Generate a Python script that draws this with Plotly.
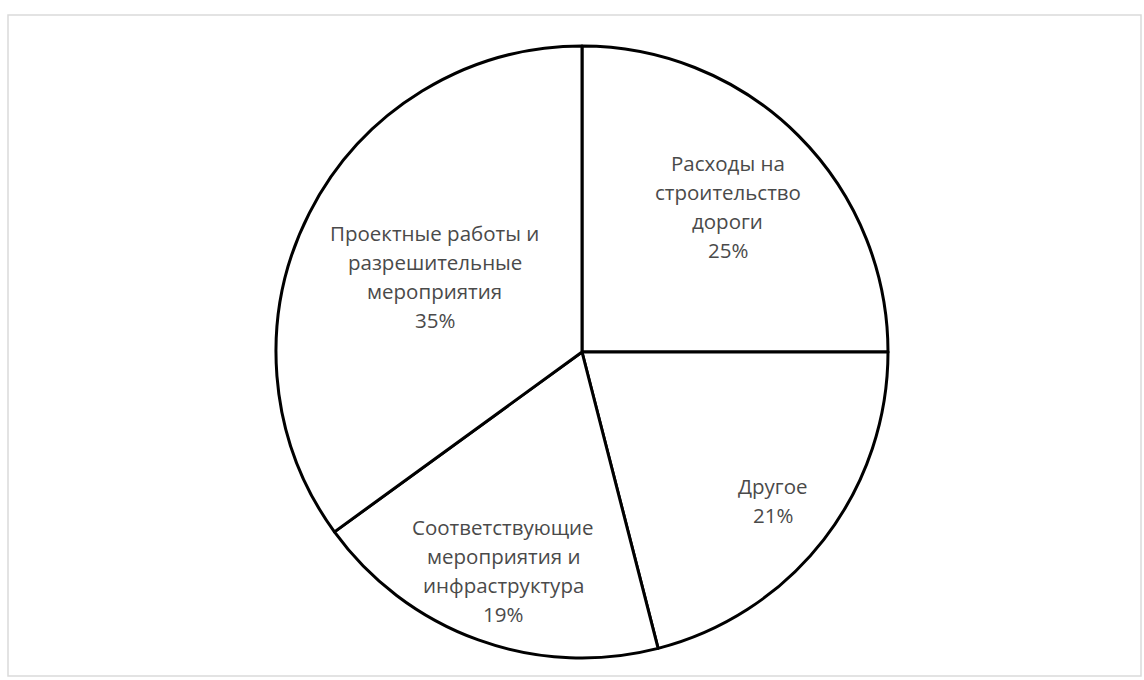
import numpy as np
import plotly.graph_objects as go

labels = ["Расходы на строительство дороги", "Другое",
          "Соответствующие мероприятия и инфраструктура",
          "Проектные работы и разрешительные мероприятия"]
label_lines = [["Расходы на", "строительство", "дороги"],
               ["Другое"],
               ["Соответствующие", "мероприятия и", "инфраструктура"],
               ["Проектные работы и", "разрешительные", "мероприятия"]]
values = [25, 21, 19, 35]

W, H = 1144, 680
ml, mr, mt, mb = 0, 0, 46, 22
cx_px = 582
dom_x0 = (2 * cx_px - W) / W
R = (H - mt - mb) / 2  # pie radius in px
ph = H - mt - mb
pw = W - ml - mr

fig = go.Figure(go.Pie(
    labels=labels, values=values, sort=False, direction="clockwise", rotation=0,
    textinfo="none", hoverinfo="label+percent",
    marker=dict(colors=["#ffffff"] * len(values), line=dict(color="#000000", width=3)),
    domain=dict(x=[dom_x0, 1], y=[0, 1]), showlegend=False,
))

# label placement from slice mid-angles
label_r = [0.673, 0.79, 0.758, 0.54]
vals = np.array(values, dtype=float)
cum = np.cumsum(vals) / vals.sum()
mids = (cum - vals / vals.sum() / 2) * 2 * np.pi
cy_px = mt + ph / 2
line_gap = 29
annotations = []
for i, (lines, v) in enumerate(zip(label_lines, values)):
    pct = round(v / vals.sum() * 100)
    all_lines = lines + [f"{pct}%"]
    px = cx_px + label_r[i] * R * np.sin(mids[i])
    py = cy_px - label_r[i] * R * np.cos(mids[i])
    n = len(all_lines)
    for k, t in enumerate(all_lines):
        ly = py + (k - (n - 1) / 2) * line_gap
        annotations.append(dict(
            x=(px - ml) / pw, y=(H - mb - ly) / ph, xref="paper", yref="paper",
            text=t, showarrow=False, xanchor="center", yanchor="middle",
            font=dict(family="'Open Sans', Lato, sans-serif", size=20.5, color="#4a4a4a"),
        ))

fig.update_layout(
    width=W, height=H, margin=dict(l=ml, r=mr, t=mt, b=mb),
    paper_bgcolor="#ffffff", plot_bgcolor="#ffffff",
    annotations=annotations,
    shapes=[dict(type="rect", xref="paper", yref="paper",
                 x0=8 / pw, x1=1141 / pw, y0=(H - mb - 676) / ph, y1=(H - mb - 15) / ph,
                 line=dict(color="#dadada", width=1.5), fillcolor="rgba(0,0,0,0)", layer="below")],
)
fig.write_html("out.html")
